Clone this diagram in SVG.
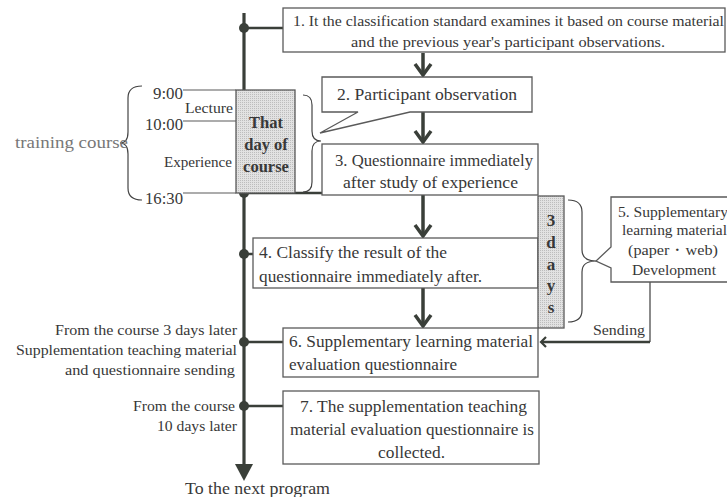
<svg xmlns="http://www.w3.org/2000/svg" width="727" height="497" viewBox="0 0 727 497">
<style>
text{font-family:"Liberation Serif","Times New Roman",serif;fill:#383838}
.box{fill:#fff;stroke:#5a5a5a;stroke-width:1.3}
.gray{fill:url(#dots);stroke:#5a5a5a;stroke-width:1.3}
.thin{fill:none;stroke:#5a5a5a;stroke-width:1.2}
.thick{fill:none;stroke:#3a3f39;stroke-width:3.2}
.conn{fill:none;stroke:#3a3f39;stroke-width:2.5}
.arrow{fill:none;stroke:#3a3f39;stroke-width:3.5;stroke-linejoin:miter}
.brace{fill:none;stroke:#444;stroke-width:1.2}
.dot{fill:#3a3f39}
.t14{font-size:15px}
.t15{font-size:16px}
.t16{font-size:17.5px}
.b{font-weight:bold;font-size:16.5px;text-anchor:middle}
.v{font-weight:bold;font-size:17px;text-anchor:middle}
</style>
<defs>
<pattern id="dots" width="2" height="2" patternUnits="userSpaceOnUse">
<rect width="2" height="2" fill="#e2e2e2"/>
<rect width="1" height="1" fill="#bdbdbd"/>
</pattern>
</defs>

<g id="connectors">
<line class="thick" x1="244" y1="13" x2="244" y2="466"/>
<path d="M235,464 L253,464 L244,481 Z" fill="#3a3f39"/>
<line class="conn" x1="244" y1="28" x2="283" y2="28"/>
<line class="conn" x1="244" y1="193" x2="322" y2="193"/>
<line class="conn" x1="244" y1="254" x2="253" y2="254"/>
<line class="conn" x1="244" y1="342" x2="283" y2="342"/>
<line class="conn" x1="244" y1="406" x2="283" y2="406"/>
<line class="thin" x1="183" y1="90" x2="236" y2="90"/>
<line class="thin" x1="183" y1="121" x2="236" y2="121"/>
<line class="thin" x1="183" y1="193" x2="236" y2="193"/>
<line class="arrow" x1="423" y1="53" x2="423" y2="75"/>
<path class="arrow" d="M415,64 L423,75 L431,64"/>
<line class="arrow" x1="423" y1="112" x2="423" y2="142"/>
<path class="arrow" d="M415,131 L423,142 L431,131"/>
<line class="arrow" x1="423" y1="195" x2="423" y2="236"/>
<path class="arrow" d="M415,225 L423,236 L431,225"/>
<line class="arrow" x1="423" y1="288" x2="423" y2="326"/>
<path class="arrow" d="M415,315 L423,326 L431,315"/>
<path fill="none" stroke="#5a5a5a" stroke-width="1.4" d="M650,282 L650,342"/>
<path class="conn" d="M650,342 L542,342"/>
<path fill="none" stroke="#3a3f39" stroke-width="2.2" d="M546,337 L541,342 L546,347"/>
<circle class="dot" cx="244" cy="28" r="5"/>
<circle class="dot" cx="244" cy="193" r="5"/>
<circle class="dot" cx="244" cy="254" r="5"/>
<circle class="dot" cx="244" cy="342" r="5"/>
<circle class="dot" cx="244" cy="406" r="5"/>
</g>

<g id="braces">
<path class="brace" d="M142,86 Q128,86 128,98 L128,132 Q128,143 120,143 Q128,143 128,154 L128,188 Q128,200 142,200"/>
<path class="brace" d="M303,95 Q312,95 312,105 L312,131 Q312,141 321,141 Q312,141 312,151 L312,182 Q312,192 303,192"/>
<path class="brace" d="M568,200 Q582,200 582,212 L582,250 Q582,261 596,261 Q582,261 582,272 L582,310 Q582,322 568,322"/>
</g>

<g id="labels">
<text class="t16" x="153" y="99" textLength="30" lengthAdjust="spacingAndGlyphs">9:00</text>
<text class="t16" x="145" y="130" textLength="38" lengthAdjust="spacingAndGlyphs">10:00</text>
<text class="t16" x="145" y="204" textLength="38" lengthAdjust="spacingAndGlyphs">16:30</text>
<text class="t14" x="185" y="113" textLength="48" lengthAdjust="spacingAndGlyphs">Lecture</text>
<text class="t14" x="164" y="167" textLength="68" lengthAdjust="spacingAndGlyphs">Experience</text>
<text class="t15" x="15" y="148" textLength="113" lengthAdjust="spacingAndGlyphs" style="fill:#777">training course</text>
<text class="t14" x="55" y="335" textLength="182" lengthAdjust="spacingAndGlyphs">From the course 3 days later</text>
<text class="t14" x="16" y="355" textLength="221" lengthAdjust="spacingAndGlyphs">Supplementation teaching material</text>
<text class="t14" x="65" y="375" textLength="170" lengthAdjust="spacingAndGlyphs">and questionnaire sending</text>
<text class="t14" x="133" y="411" textLength="102" lengthAdjust="spacingAndGlyphs">From the course</text>
<text class="t14" x="157" y="431" textLength="80" lengthAdjust="spacingAndGlyphs">10 days later</text>
<text class="t16" x="185" y="494" textLength="145" lengthAdjust="spacingAndGlyphs">To the next program</text>
<text class="t14" x="593" y="335" textLength="52" lengthAdjust="spacingAndGlyphs">Sending</text>
</g>

<g id="node1">
<rect class="box" x="283" y="8" width="442" height="44"/>
<text class="t14" x="293" y="26" textLength="431" lengthAdjust="spacingAndGlyphs">1. It the classification standard examines it based on course material</text>
<text class="t14" x="351" y="47" textLength="314" lengthAdjust="spacingAndGlyphs">and the previous year's participant observations.</text>
</g>

<g id="node-day">
<rect class="gray" x="236" y="90" width="59" height="103"/>
<text class="b" x="266" y="128">That</text>
<text class="b" x="266" y="150">day of</text>
<text class="b" x="266" y="172">course</text>
</g>

<g id="node2">
<path class="box" d="M322,77 L532,77 L532,112 L410,112 L320,133 L358,112 L322,112 Z"/>
<text class="t16" x="337" y="100" textLength="180" lengthAdjust="spacingAndGlyphs">2. Participant observation</text>
</g>

<g id="node3">
<rect class="box" x="322" y="144" width="216" height="51"/>
<text class="t16" x="335" y="166" textLength="198" lengthAdjust="spacingAndGlyphs">3. Questionnaire immediately</text>
<text class="t16" x="343" y="188" textLength="175" lengthAdjust="spacingAndGlyphs">after study of experience</text>
</g>

<g id="node4">
<rect class="box" x="253" y="238" width="285" height="50"/>
<text class="t16" x="259" y="258" textLength="188" lengthAdjust="spacingAndGlyphs">4. Classify the result of the</text>
<text class="t16" x="259" y="282" textLength="223" lengthAdjust="spacingAndGlyphs">questionnaire immediately after.</text>
</g>

<g id="node-3days">
<rect class="gray" x="538" y="196" width="26" height="132"/>
<text class="v" x="551" y="226">3</text>
<text class="v" x="551" y="248">d</text>
<text class="v" x="551" y="270">a</text>
<text class="v" x="551" y="291">y</text>
<text class="v" x="551" y="313">s</text>
</g>

<g id="node5">
<path class="box" d="M611,197 L740,197 L740,282 L611,282 L611,268 L596,261 L611,247 Z"/>
<text class="t14" x="618" y="217" textLength="110" lengthAdjust="spacingAndGlyphs">5. Supplementary</text>
<text class="t14" x="622" y="235" textLength="105" lengthAdjust="spacingAndGlyphs">learning material</text>
<text class="t14" x="628" y="255" textLength="90" lengthAdjust="spacingAndGlyphs">(paper・web)</text>
<text class="t14" x="632" y="275" textLength="84" lengthAdjust="spacingAndGlyphs">Development</text>
</g>

<g id="node6">
<rect class="box" x="283" y="328" width="255" height="49"/>
<text class="t16" x="289" y="347" textLength="244" lengthAdjust="spacingAndGlyphs">6. Supplementary learning material</text>
<text class="t16" x="289" y="370" textLength="168" lengthAdjust="spacingAndGlyphs">evaluation questionnaire</text>
</g>

<g id="node7">
<rect class="box" x="283" y="391" width="256" height="73"/>
<text class="t16" x="300" y="412" textLength="227" lengthAdjust="spacingAndGlyphs">7. The supplementation teaching</text>
<text class="t16" x="290" y="435" textLength="244" lengthAdjust="spacingAndGlyphs">material evaluation questionnaire is</text>
<text class="t16" x="378" y="458" textLength="67" lengthAdjust="spacingAndGlyphs">collected.</text>
</g>
</svg>
